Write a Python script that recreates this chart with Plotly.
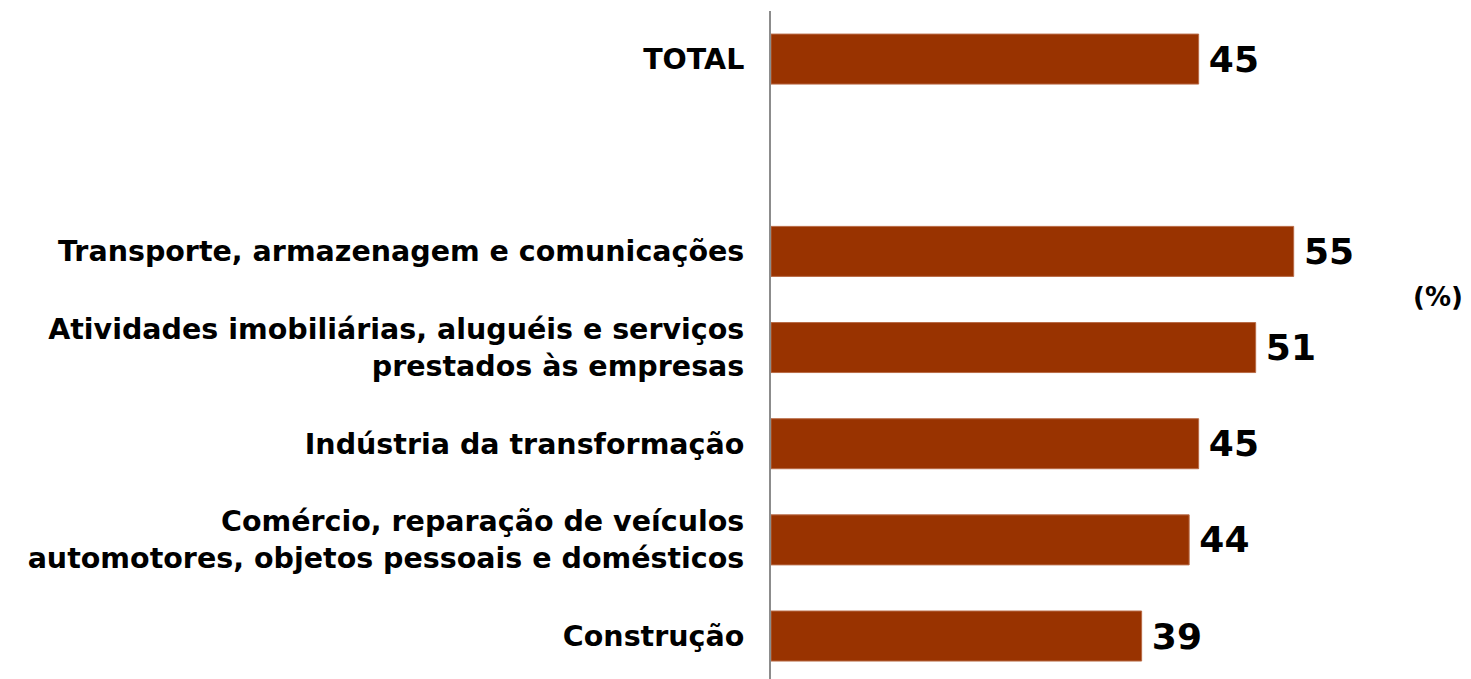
import plotly.graph_objects as go

categories = [
    "TOTAL",
    "",
    "Transporte, armazenagem e comunicações",
    "Atividades imobiliárias, aluguéis e serviços<br>prestados às empresas",
    "Indústria da transformação",
    "Comércio, reparação de veículos<br>automotores, objetos pessoais e domésticos",
    "Construção",
]
values = [45, None, 55, 51, 45, 44, 39]
unit_label = "(%)"

FONT = "DejaVu Sans, sans-serif"
ypos = list(range(len(categories)))
labels = ["" if v is None else f"\u2009{v}" for v in values]

fig = go.Figure(
    go.Bar(
        x=values,
        y=ypos,
        orientation="h",
        width=0.52,
        marker=dict(color="#993300", line=dict(color="#b86a45", width=1)),
        text=labels,
        textposition="outside",
        textfont=dict(family=FONT, size=36, color="#000000", weight="bold"),
        cliponaxis=False,
        hoverinfo="skip",
    )
)

fig.update_layout(
    width=1471,
    height=679,
    margin=dict(l=763, r=0, t=3, b=0, autoexpand=False),
    paper_bgcolor="white",
    plot_bgcolor="white",
    showlegend=False,
    xaxis=dict(range=[0, 74.5], visible=False, fixedrange=True, automargin=False),
    yaxis=dict(
        range=[6.53, -0.5],
        tickmode="array",
        tickvals=ypos,
        ticktext=[f"<b>{c}</b>" for c in categories],
        tickfont=dict(family=FONT, size=28.5, color="#000000"),
        showline=True,
        linecolor="#8c8c8c",
        linewidth=2,
        showgrid=False,
        zeroline=False,
        ticks="",
        ticklabelstandoff=19,
        automargin=False,
    ),
    annotations=[
        dict(
            text=f"<b>{unit_label}</b>",
            x=1.0, y=0.577, xref="paper", yref="paper",
            xanchor="right", yanchor="middle",
            showarrow=False, xshift=-14,
            font=dict(family=FONT, size=26, color="#000000"),
        )
    ],
)

fig.write_html("out.html")
